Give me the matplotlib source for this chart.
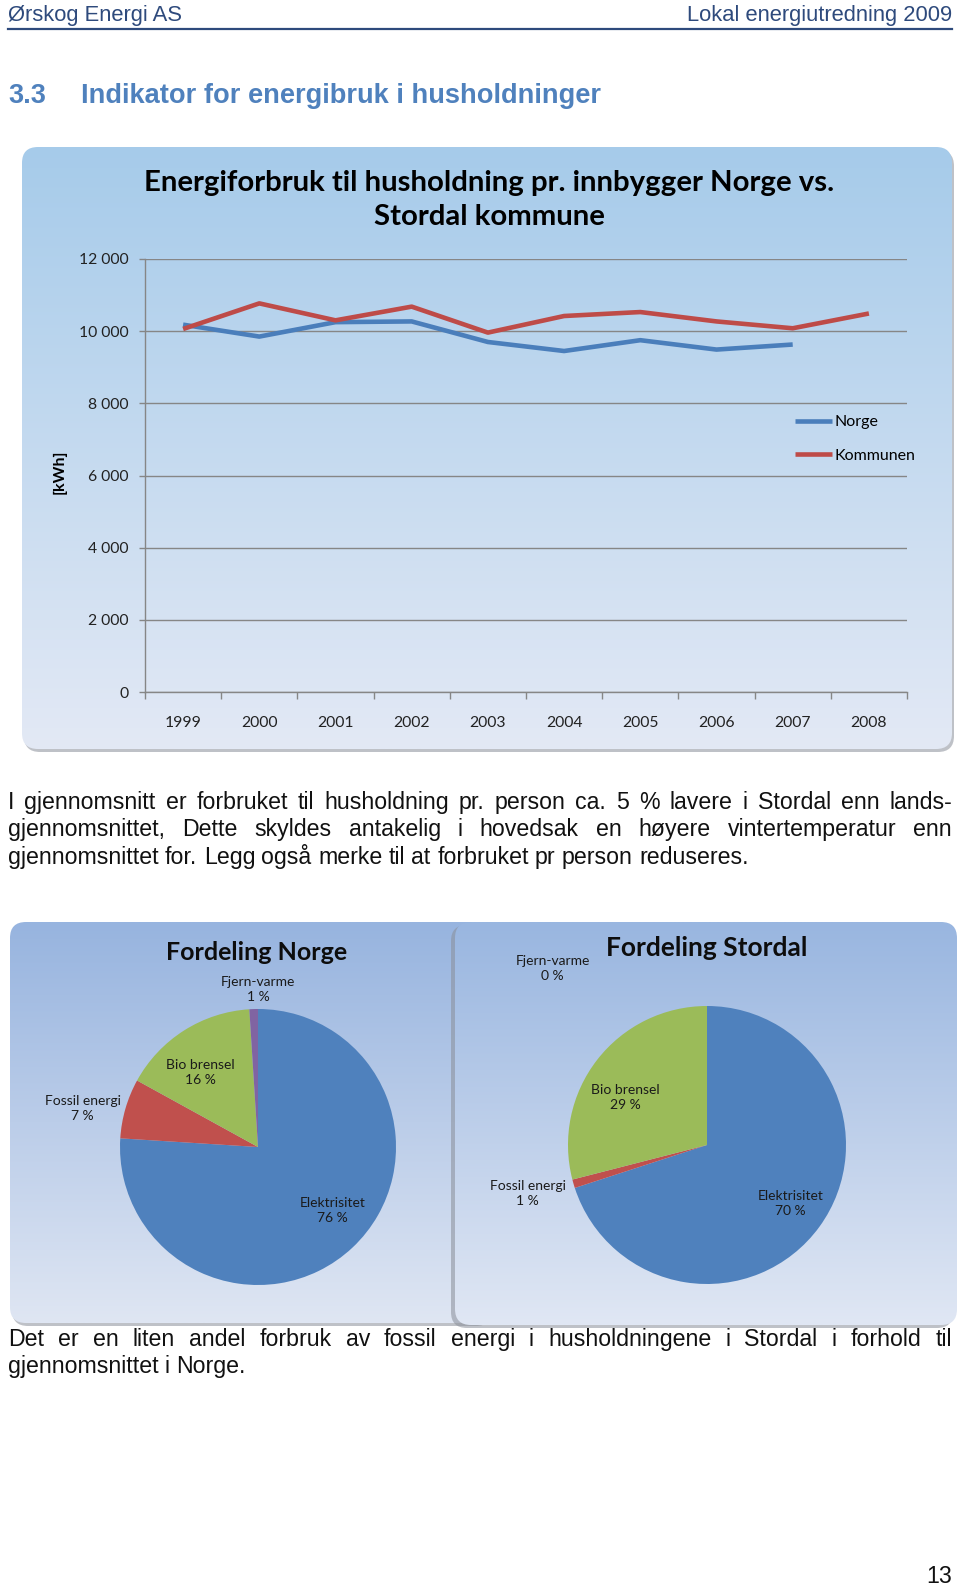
import numpy as np
import matplotlib
matplotlib.use("Agg")
import matplotlib.pyplot as plt
from matplotlib.patches import FancyBboxPatch
from matplotlib.colors import to_rgb

W, H = 960, 1588

# data
years = [1999, 2000, 2001, 2002, 2003, 2004, 2005, 2006, 2007, 2008]
norge = [10180, 9850, 10250, 10270, 9700, 9450, 9750, 9490, 9630, np.nan]
kommunen = [10060, 10770, 10300, 10680, 9960, 10420, 10530, 10270, 10080, 10490]
yticks = [0, 2000, 4000, 6000, 8000, 10000, 12000]

pie_names = ["Elektrisitet", "Fossil energi", "Bio brensel", "Fjern-varme"]
share_norge = [76, 7, 16, 1]
share_stordal = [70, 1, 29, 0]
pie_colors = ["#4F81BD", "#C0504D", "#9BBB59", "#8064A2"]

BODY = "Liberation Sans"
CHART = "Lato"

fig = plt.figure(figsize=(W / 100, H / 100), dpi=100)
fig.patch.set_facecolor("white")
bg = fig.add_axes([0, 0, 1, 1])
bg.set_axis_off()
bg.set_autoscale_on(False)
bg.set_xlim(0, W)
bg.set_ylim(H, 0)


def fbox(x0, y0, x1, y1):
    return [x0 / W, 1 - y1 / H, (x1 - x0) / W, (y1 - y0) / H]


def panel(x0, y0, x1, y1, top, bottom, r=16, z=1, sh=(2, 3)):
    shadow = FancyBboxPatch((x0 + r + sh[0], y0 + r + sh[1]), x1 - x0 - 2 * r, y1 - y0 - 2 * r,
                            boxstyle=f"round,pad={r}", fc="#8a8f99", ec="none", alpha=0.55, zorder=z)
    bg.add_patch(shadow)
    box = FancyBboxPatch((x0 + r, y0 + r), x1 - x0 - 2 * r, y1 - y0 - 2 * r,
                         boxstyle=f"round,pad={r}", fc="none", ec="none", zorder=z + 0.1)
    bg.add_patch(box)
    t = np.linspace(0, 1, 256)[:, None, None]
    img = (1 - t) * np.array(to_rgb(top)) + t * np.array(to_rgb(bottom))
    im = bg.imshow(img, extent=(x0, x1, y1, y0), aspect="auto", zorder=z + 0.2,
                   interpolation="bilinear")
    im.set_clip_path(box)


# page header
bg.text(8, 16, "Ørskog Energi AS", fontsize=15.8, family=BODY, color="#2E4A7C", va="center")
bg.text(952, 16, "Lokal energiutredning 2009", fontsize=15.8, family=BODY, color="#2E4A7C",
        va="center", ha="right")
bg.plot([8, 952], [29, 29], color="#2E4A7C", lw=1.6)
bg.text(8, 96, "3.3", fontsize=19.6, family=BODY, weight="bold", color="#4F81BD", va="center")
bg.text(81, 96, "Indikator for energibruk i husholdninger", fontsize=19.6, family=BODY,
        weight="bold", color="#4F81BD", va="center")

# panels
panel(22, 147, 952, 749, "#A6CBEA", "#E3E9F5")
panel(10, 922, 490, 1323, "#97B4DF", "#DFE6F3", z=2)
panel(455, 922, 957, 1325, "#99B6E0", "#E0E7F4", z=3, sh=(-4, 3))

# line chart
ax = fig.add_axes(fbox(145, 259, 907, 692))
ax.set_facecolor("none")
x = np.arange(len(years))
ax.plot(x, norge, color="#4A7EBB", lw=3.3, label="Norge", solid_capstyle="butt")
ax.plot(x, kommunen, color="#BE4B48", lw=3.3, label="Kommunen", solid_capstyle="butt")
ax.set_xlim(-0.5, len(years) - 0.5)
ax.set_ylim(0, 12000)
ax.set_yticks(yticks)
ax.set_yticklabels([f"{v:,}".replace(",", " ") for v in yticks])
ax.set_xticks(x)
ax.set_xticklabels([str(y) for y in years])
ax.set_xticks(np.arange(-0.5, len(years)), minor=True)
ax.tick_params(axis="x", which="major", length=0, pad=17, labelsize=11.3, colors="#222222")
ax.tick_params(axis="x", which="minor", length=5, width=1.0, color="#868686")
ax.tick_params(axis="y", length=4, width=1.0, color="#868686", pad=8, labelsize=11.3,
               labelcolor="#222222")
for lab in ax.get_xticklabels() + ax.get_yticklabels():
    lab.set_family(CHART)
ax.grid(axis="y", color="#868686", lw=1.0)
ax.set_axisbelow(True)
for s in ["top", "right"]:
    ax.spines[s].set_visible(False)
for s in ["left", "bottom"]:
    ax.spines[s].set_color("#868686")
    ax.spines[s].set_linewidth(1.0)
leg = ax.legend(loc="center left", bbox_to_anchor=(795 / W, 1 - 439 / H),
                bbox_transform=fig.transFigure, frameon=False, handlelength=2.3,
                handletextpad=0.2, labelspacing=1.2, borderpad=0, borderaxespad=0,
                prop={"family": CHART, "size": 11.5})
bg.text(489, 200, "Energiforbruk til husholdning pr. innbygger Norge vs.\nStordal kommune",
        ha="center", va="center", fontsize=21.2, family=CHART, weight="bold", linespacing=1.4,
        zorder=5)
bg.text(60, 472, "[kWh]", rotation=90, ha="center", va="center", fontsize=11.5, family=CHART,
        weight="bold", zorder=5)


# pies
def pie(cx, cy, r, shares, title, title_xy, tsize, label_pos):
    pa = fig.add_axes(fbox(cx - r, cy - r, cx + r, cy + r))
    pa.set_facecolor("none")
    pa.pie(shares, colors=pie_colors, startangle=90, counterclock=False,
           wedgeprops={"linewidth": 0})
    pa.set_xlim(-1, 1)
    pa.set_ylim(-1, 1)
    pa.set_axis_off()
    for name, val, pos in zip(pie_names, shares, label_pos):
        pa.text(pos[0], pos[1], f"{name}\n{val} %", ha="center", va="center", fontsize=10,
                family=CHART, color="#1a1a1a", linespacing=1.35)
    bg.text(title_xy[0], title_xy[1], title, ha="center", va="center", fontsize=tsize,
            family=CHART, weight="bold", color="#0d0d0d", zorder=6)


pie(258, 1147, 138, share_norge, "Fordeling Norge", (257, 952), 18,
    [(0.54, -0.46), (-1.27, 0.28), (-0.42, 0.54), (0.0, 1.14)])
pie(707, 1145, 139, share_stordal, "Fordeling Stordal", (707, 948), 19,
    [(0.60, -0.42), (-1.29, -0.35), (-0.59, 0.34), (-1.11, 1.27)])

# body text, justified
renderer = fig.canvas.get_renderer()
BODY_SIZE = 16.7


def line(text, y, justify=True, x0=8, x1=952):
    words = text.split()
    texts = [bg.text(0, y + 6, w, fontsize=BODY_SIZE, family=BODY, va="baseline",
                     color="#111111") for w in words]
    widths = [t.get_window_extent(renderer).width for t in texts]
    if justify and len(words) > 1:
        gap = (x1 - x0 - sum(widths)) / (len(words) - 1)
    else:
        sp = bg.text(0, y, "a a", fontsize=BODY_SIZE, family=BODY)
        sa = bg.text(0, y, "aa", fontsize=BODY_SIZE, family=BODY)
        gap = sp.get_window_extent(renderer).width - sa.get_window_extent(renderer).width
        sp.remove()
        sa.remove()
    xx = x0
    for t, w in zip(texts, widths):
        t.set_x(xx)
        xx += w + gap


line("I gjennomsnitt er forbruket til husholdning pr. person ca. 5 % lavere i Stordal enn lands-", 803)
line("gjennomsnittet, Dette skyldes antakelig i hovedsak en høyere vintertemperatur enn", 830)
line("gjennomsnittet for. Legg også merke til at forbruket pr person reduseres.", 858, justify=False)
line("Det er en liten andel forbruk av fossil energi i husholdningene i Stordal i forhold til", 1340)
line("gjennomsnittet i Norge.", 1367, justify=False)
bg.text(952, 1583, "13", fontsize=BODY_SIZE, family=BODY, ha="right", va="baseline",
        color="#111111")

fig.savefig("out.png", dpi=100)
